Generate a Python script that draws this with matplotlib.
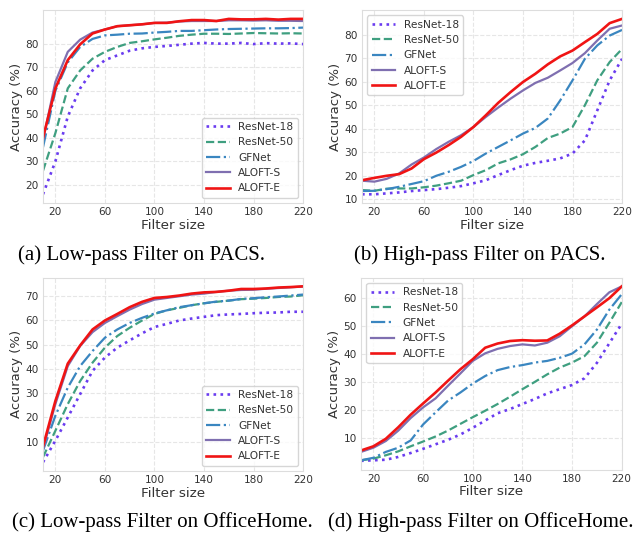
import numpy as np
import matplotlib
matplotlib.use('Agg')
import matplotlib.pyplot as plt

filter_size = list(range(10, 230, 10))
names = ['ResNet-18', 'ResNet-50', 'GFNet', 'ALOFT-S', 'ALOFT-E']

# (a) low-pass, PACS
pacs_low = {
    'ResNet-18': [16, 30, 49, 61, 68.6, 73, 75, 77, 78, 78.6, 79, 79.5, 80, 80.3, 80, 80, 80.3, 79.8, 80.2, 80, 80.1, 79.8],
    'ResNet-50': [26, 42, 61, 68.6, 73.6, 76.5, 78.6, 80.3, 81, 81.8, 82.5, 83.3, 83.8, 84.2, 84.2, 84.1, 84.3, 84.5, 84.4, 84.3, 84.4, 84.3],
    'GFNet': [36, 60, 72, 78.6, 82, 83.5, 83.8, 84.2, 84.3, 84.7, 85, 85.4, 85.4, 85.7, 86, 86.2, 86.3, 86.4, 86.5, 86.5, 86.6, 86.8],
    'ALOFT-S': [39, 63.7, 76.5, 81.7, 84.7, 86, 87.4, 87.8, 88.2, 88.8, 88.9, 89.4, 89.6, 89.6, 89.6, 89.9, 89.9, 89.8, 89.9, 89.7, 89.7, 89.6],
    'ALOFT-E': [40, 61, 73, 79.7, 84.3, 86, 87.4, 87.8, 88.2, 88.8, 88.8, 89.5, 90, 90, 89.6, 90.5, 90.3, 90.3, 90.5, 90.2, 90.5, 90.5],
}
# (b) high-pass, PACS
pacs_high = {
    'ResNet-18': [12, 12, 12.4, 12.8, 13.4, 13.8, 14.2, 14.8, 15.5, 16.7, 18, 20.2, 22.3, 24.2, 25.4, 26.3, 27.3, 29.4, 35, 47.8, 60.6, 69.8],
    'ResNet-50': [13.8, 13.5, 14.4, 14.5, 14.5, 15, 15.7, 16.7, 17.8, 20.2, 22.3, 25.2, 26.9, 29.1, 32.2, 36, 37.9, 40.7, 50, 60.6, 68.4, 74],
    'GFNet': [13.4, 13.5, 14.2, 15.2, 16.4, 17.6, 19.9, 21.6, 23.7, 26.2, 29.4, 32.2, 35, 37.9, 40.3, 44.3, 52, 60.6, 69.8, 75.5, 79.7, 82.1],
    'ALOFT-S': [17.8, 17.4, 18.6, 20.9, 24.7, 27.7, 31.3, 34.4, 37.2, 40.7, 45, 49, 52.8, 56.3, 59.5, 61.7, 64.8, 68, 72.2, 77.6, 82.6, 84],
    'ALOFT-E': [18, 19, 19.9, 20.6, 23, 27, 29.8, 33, 36.5, 40.7, 45.7, 51, 55.6, 59.9, 63.4, 67.4, 70.8, 73.3, 76.9, 80.4, 85, 86.8],
}
# (c) low-pass, OfficeHome
oh_low = {
    'ResNet-18': [1.5, 10.4, 20, 29.6, 39.2, 44.7, 48.8, 51.8, 54.7, 57.3, 58.6, 60, 60.8, 61.5, 62.2, 62.5, 62.7, 63, 63.2, 63.3, 63.6, 63.6],
    'ResNet-50': [3.6, 14.5, 25.5, 35, 42.6, 48.8, 53.6, 57, 60, 62.7, 64.2, 65.2, 66.3, 67.1, 67.7, 68.2, 68.8, 69, 69.3, 69.7, 69.9, 70.4],
    'GFNet': [6.3, 20.7, 32.3, 41.2, 47.4, 52.9, 56.3, 59, 61.1, 62.9, 64.2, 65.5, 66.3, 67.1, 67.8, 68.2, 68.9, 69.2, 69.6, 69.9, 70.3, 70.7],
    'ALOFT-S': [7, 25.5, 41.2, 49.5, 55.2, 59, 61.8, 64.5, 66.8, 68.6, 69.3, 70, 70.7, 71.1, 71.8, 72.3, 72.6, 72.7, 73.1, 73.4, 73.7, 74],
    'ALOFT-E': [8, 26.8, 42.2, 49.7, 56.3, 60, 62.7, 65.5, 67.7, 69.3, 69.7, 70.3, 71.1, 71.6, 71.8, 72.3, 73, 73, 73.2, 73.6, 73.8, 74.1],
}
# (d) high-pass, OfficeHome
oh_high = {
    'ResNet-18': [2, 2.2, 2.4, 3.4, 4.8, 6.3, 7.9, 9.5, 11.4, 13.8, 16.4, 19, 20.5, 22.3, 24.1, 26.1, 27.6, 29.1, 31.5, 37, 44, 51],
    'ResNet-50': [2.2, 2.8, 4, 5.4, 7.2, 8.9, 10.7, 12.8, 15.2, 17.6, 19.9, 22.3, 24.9, 27.6, 30.2, 32.9, 35.3, 37.1, 39.4, 44.2, 51.3, 58.7],
    'GFNet': [2.2, 3.1, 5.2, 6.7, 9.3, 15, 19.3, 23.5, 26.4, 29.6, 32.3, 34.4, 35.5, 36.2, 37.1, 37.7, 38.8, 40.3, 43.6, 48.9, 56, 61.5],
    'ALOFT-S': [5.2, 6.7, 9.1, 12.8, 17.3, 21.1, 24.3, 28.8, 33.2, 37.7, 40.4, 42, 43, 43.6, 43.2, 44.2, 46.5, 50.1, 53.6, 58, 62.2, 64.3],
    'ALOFT-E': [5.7, 7.2, 9.9, 14, 18.5, 22.5, 26.4, 30.6, 34.7, 38.3, 42.4, 43.9, 44.8, 45.1, 44.9, 45, 47.4, 50.4, 53.6, 56.8, 60.1, 64.3],
}

colors = {'ResNet-18': '#6a3cf0', 'ResNet-50': '#3f9f80', 'GFNet': '#3a86c0',
          'ALOFT-S': '#7f6fb0', 'ALOFT-E': '#f01414'}
styles = {'ResNet-18': ':', 'ResNet-50': '--', 'GFNet': '-.', 'ALOFT-S': '-', 'ALOFT-E': '-'}
widths = {'ResNet-18': 1.9, 'ResNet-50': 1.6, 'GFNet': 1.6, 'ALOFT-S': 1.6, 'ALOFT-E': 1.9}

panels = [
    (pacs_low, [20, 30, 40, 50, 60, 70, 80], 'lower right', [0.0673, 0.619, 0.407, 0.362]),
    (pacs_high, [10, 20, 30, 40, 50, 60, 70, 80], 'upper left', [0.5665, 0.619, 0.407, 0.362]),
    (oh_low, [10, 20, 30, 40, 50, 60, 70], 'lower right', [0.0673, 0.1163, 0.407, 0.363]),
    (oh_high, [10, 20, 30, 40, 50, 60], 'upper left', [0.5650, 0.1190, 0.408, 0.360]),
]
captions = ['(a) Low-pass Filter on PACS.', '(b) High-pass Filter on PACS.',
            '(c) Low-pass Filter on OfficeHome.', '(d) High-pass Filter on OfficeHome.']

fig = plt.figure(figsize=(6.39, 5.33), dpi=100)

for data, yt, loc, rect in panels:
    ax = fig.add_axes(rect)
    for n in names:
        ax.plot(filter_size, data[n], linestyle=styles[n], color=colors[n],
                linewidth=widths[n], label=n)
    ax.set_xlim(10, 220)
    ax.set_xticks([20, 60, 100, 140, 180, 220])
    ax.set_yticks(yt)
    ax.grid(True, linestyle='--', color='#e6e6e6', linewidth=0.8)
    ax.set_axisbelow(True)
    for s in ax.spines.values():
        s.set_color('#dddddd')
    ax.tick_params(length=0, pad=3, labelsize=7.6, colors='#333333')
    ax.set_xlabel('Filter size', fontsize=9.7, color='#333333', labelpad=1)
    ax.set_ylabel('Accuracy (%)', fontsize=9.5, color='#333333', labelpad=2)
    leg = ax.legend(loc=loc, fontsize=7.7, frameon=True, fancybox=True,
                    edgecolor='#cccccc', handlelength=2.2)
    for t in leg.get_texts():
        t.set_color('#333333')

cap_pos = [(0.222, 0.521), (0.751, 0.521), (0.254, 0.020), (0.753, 0.020)]
for (x, y), c in zip(cap_pos, captions):
    fig.text(x, y, c, ha='center', va='center', fontsize=15,
             family='Liberation Serif', color='black')

fig.savefig('out.png', dpi=100)
